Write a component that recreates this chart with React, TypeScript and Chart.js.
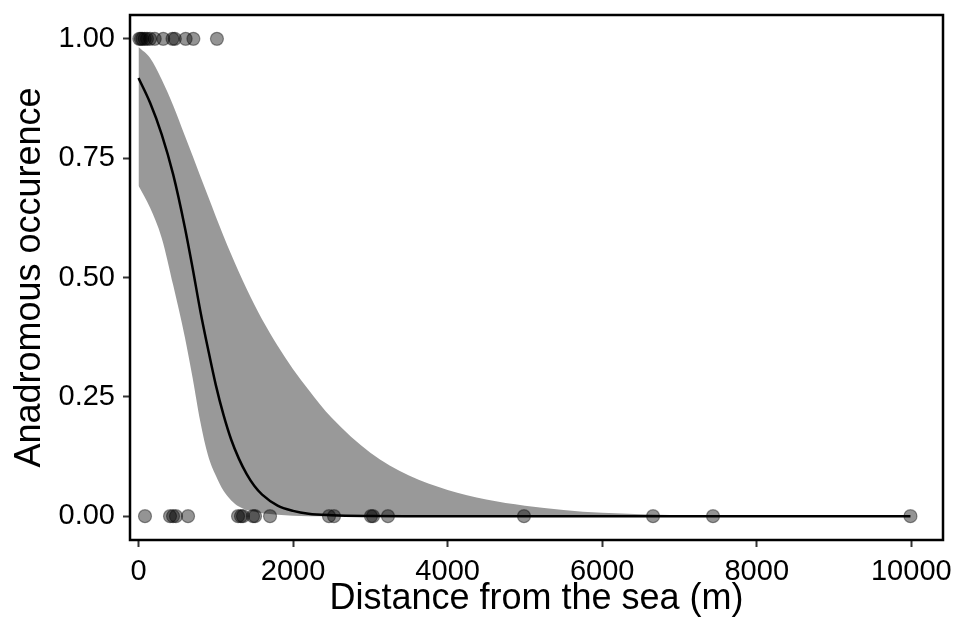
import React, { useEffect, useRef } from "react";
import { Chart, registerables } from "chart.js";

Chart.register(...registerables);

// Observations: distance from the sea (m) with presence (1) / absence (0)
const presentDist = [10, 30, 50, 80, 110, 150, 210, 320, 440, 470, 610, 710, 1015];
const absentDist = [84, 408, 447, 485, 641, 1288, 1326, 1352, 1482, 1508, 1702, 2465, 2530, 3008, 3034, 3228, 4988, 6658, 7434, 9989];

// Fitted curve and confidence band
const fitX = [0, 150, 300, 450, 600, 700, 800, 900, 1000, 1100, 1200, 1300, 1400, 1500, 1600, 1800, 2000, 2200, 2500, 3000, 3500, 4000, 4500, 5000, 5500, 6000, 7000, 8000, 9000, 9989];
const fitY = [0.918, 0.866, 0.8, 0.715, 0.605, 0.52, 0.43, 0.35, 0.275, 0.212, 0.16, 0.12, 0.088, 0.063, 0.045, 0.022, 0.011, 0.005, 0.002, 0.0004, 0, 0, 0, 0, 0, 0, 0, 0, 0, 0];
const fitUpper = [0.983, 0.96, 0.915, 0.86, 0.797, 0.755, 0.712, 0.67, 0.628, 0.587, 0.548, 0.511, 0.476, 0.443, 0.412, 0.357, 0.308, 0.265, 0.206, 0.133, 0.085, 0.055, 0.035, 0.022, 0.013, 0.007, 0.002, 0.0005, 0, 0];
const fitLower = [0.692, 0.646, 0.583, 0.483, 0.375, 0.29, 0.198, 0.127, 0.085, 0.053, 0.033, 0.02, 0.013, 0.009, 0.006, 0.003, 0.001, 0, 0, 0, 0, 0, 0, 0, 0, 0, 0, 0, 0, 0];

const xTicks = [0, 2000, 4000, 6000, 8000, 10000];
const yTicks = [0, 0.25, 0.5, 0.75, 1];

const FONT = "'Liberation Sans', Arial, sans-serif";

export default function App() {
  const ref = useRef<HTMLCanvasElement | null>(null);

  useEffect(() => {
    if (!ref.current) return;
    const pts = (xs: number[], ys: number[]) => xs.map((x, i) => ({ x, y: ys[i] }));

    const borderPlugin = {
      id: "panelBorder",
      afterDatasetsDraw(chart: any) {
        const { ctx, chartArea } = chart;
        ctx.save();
        ctx.strokeStyle = "#000";
        ctx.lineWidth = 2.5;
        ctx.strokeRect(chartArea.left, chartArea.top, chartArea.right - chartArea.left, chartArea.bottom - chartArea.top);
        ctx.restore();
      },
    };

    const chart = new Chart(ref.current, {
      type: "scatter",
      data: {
        datasets: [
          {
            type: "line",
            data: pts(fitX, fitLower),
            borderWidth: 0,
            borderColor: "rgba(0,0,0,0)",
            pointRadius: 0,
            fill: false,
            cubicInterpolationMode: "monotone",
            order: 3,
          } as any,
          {
            type: "line",
            data: pts(fitX, fitUpper),
            borderWidth: 0,
            borderColor: "rgba(0,0,0,0)",
            pointRadius: 0,
            fill: "-1",
            backgroundColor: "#999999",
            cubicInterpolationMode: "monotone",
            order: 2,
          } as any,
          {
            type: "line",
            data: pts(fitX, fitY),
            borderColor: "#000",
            borderWidth: 2.5,
            pointRadius: 0,
            fill: false,
            cubicInterpolationMode: "monotone",
            order: 1,
          } as any,
          {
            type: "scatter",
            data: [
              ...presentDist.map((x) => ({ x, y: 1 })),
              ...absentDist.map((x) => ({ x, y: 0 })),
            ],
            backgroundColor: "rgba(0,0,0,0.42)",
            borderColor: "rgba(0,0,0,0.4)",
            borderWidth: 1.2,
            pointRadius: 6.5,
            order: 0,
          } as any,
        ],
      },
      options: {
        animation: false,
        responsive: false,
        layout: { padding: { left: 0, right: 10, top: 15, bottom: 0 } },
        plugins: { legend: { display: false }, tooltip: { enabled: false } },
        scales: {
          x: {
            type: "linear",
            min: -110,
            max: 10410,
            afterBuildTicks: (s: any) => {
              s.ticks = xTicks.map((v) => ({ value: v }));
            },
            afterFit: (s: any) => {
              s.height = 86;
              s.paddingLeft = 0;
              s.paddingRight = 0;
            },
            ticks: {
              color: "#000",
              font: { family: FONT, size: 29 },
              padding: 8,
              maxRotation: 0,
              callback: (v: any) => String(v),
            },
            grid: { drawOnChartArea: false, drawTicks: true, tickLength: 7, tickColor: "#333", tickWidth: 2 },
            border: { display: false },
            title: {
              display: true,
              text: "Distance from the sea (m)",
              color: "#000",
              font: { family: FONT, size: 36 },
              padding: { top: 0, bottom: 5 },
            },
          },
          y: {
            type: "linear",
            min: -0.05,
            max: 1.05,
            afterBuildTicks: (s: any) => {
              s.ticks = yTicks.map((v) => ({ value: v }));
            },
            afterFit: (s: any) => {
              s.width = 130;
              s.paddingTop = 0;
              s.paddingBottom = 0;
            },
            ticks: {
              color: "#000",
              font: { family: FONT, size: 29 },
              padding: 8,
              callback: (v: any) => Number(v).toFixed(2),
            },
            grid: { drawOnChartArea: false, drawTicks: true, tickLength: 7, tickColor: "#333", tickWidth: 2 },
            border: { display: false },
            title: {
              display: true,
              text: "Anadromous occurence",
              color: "#000",
              font: { family: FONT, size: 36 },
              padding: { top: 8, bottom: 0 },
            },
          },
        },
      },
      plugins: [borderPlugin],
    } as any);

    return () => chart.destroy();
  }, []);

  return (
    <div style={{ position: "fixed", left: 0, top: 0, width: 953, height: 626, background: "#fff" }}>
      <canvas ref={ref} width={953} height={626} style={{ width: 953, height: 626, display: "block" }} />
    </div>
  );
}
